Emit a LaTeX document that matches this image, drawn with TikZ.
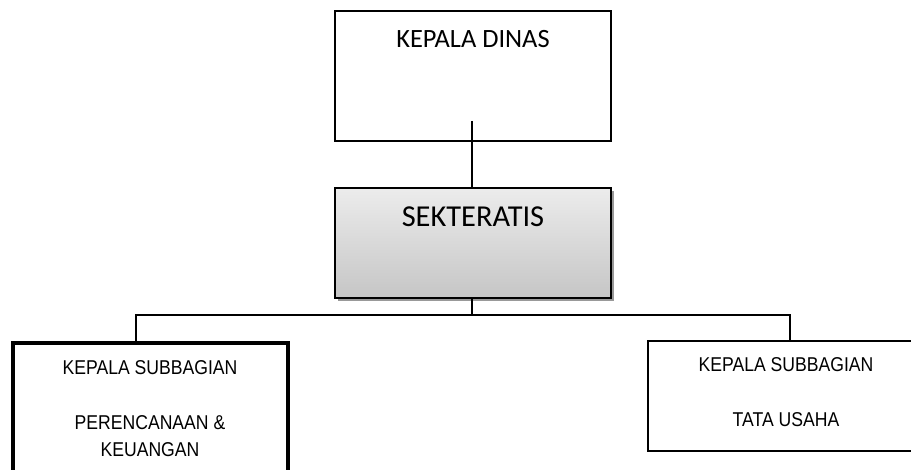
\documentclass[tikz,border=0pt]{standalone}
\usepackage{fontspec}
\setmainfont{Carlito}
\newfontfamily\narrowfont[FakeStretch=0.88]{Liberation Sans}
\usetikzlibrary{shadows}
\begin{document}
\begin{tikzpicture}[x=0.75pt,y=-0.75pt,
  box/.style={draw=black, line width=1.6pt, rectangle, inner sep=0pt, outer sep=0pt, anchor=north west},
  thickbox/.style={box, line width=3.4pt},
  conn/.style={draw=black, line width=1.6pt},
  bigtxt/.style={font=\fontsize{19.8}{22}\selectfont, inner sep=0pt},
  sektxt/.style={font=\fontsize{22.8}{26}\selectfont, inner sep=0pt},
  subtxt/.style={font=\narrowfont\fontsize{15}{17}\selectfont, inner sep=0pt}]
\useasboundingbox (0,0) rectangle (911,470);
\clip (0,0) rectangle (911,470);
\fill[white] (0,0) rectangle (911,470);
% boxes
\node[box, minimum width=207pt, minimum height=97.5pt] (kd) at (335,11) {};
\node[box, minimum width=207pt, minimum height=82.5pt, top color=gray!15, bottom color=gray!45,
      drop shadow={shadow xshift=2.5pt, shadow yshift=-2.5pt, fill=gray!80, opacity=1}] (sek) at (335,188) {};
\node[thickbox, minimum width=206.25pt, minimum height=110.25pt] (left) at (13,343) {};
\node[box, minimum width=213pt, minimum height=82.5pt] (right) at (648,341) {};
% texts
\node[bigtxt] (kdt) at (473,39) {KEPALA DINAS};
\node[sektxt] (sekt) at (473,217) {SEKTERATIS};
\node[subtxt] (l1) at (150,368) {KEPALA SUBBAGIAN};
\node[subtxt] (l2) at (150,423) {PERENCANAAN \&};
\node[subtxt] (l3) at (150,450) {KEUANGAN};
\node[subtxt] (r1) at (786,365) {KEPALA SUBBAGIAN};
\node[subtxt] (r2) at (786,420) {TATA USAHA};
% connectors
\coordinate (kdin) at (472,121);
\coordinate (bus) at (472,315);
\coordinate (busL) at (136,315);
\coordinate (busR) at (790,315);
\draw[conn] (kdin) -- (kdin |- sek.north);
\draw[conn] (kdin |- sek.south) -- (bus);
\draw[conn] (busL |- left.north) -- (busL) -- (busR) -- (busR |- right.north);
\end{tikzpicture}
\end{document}
